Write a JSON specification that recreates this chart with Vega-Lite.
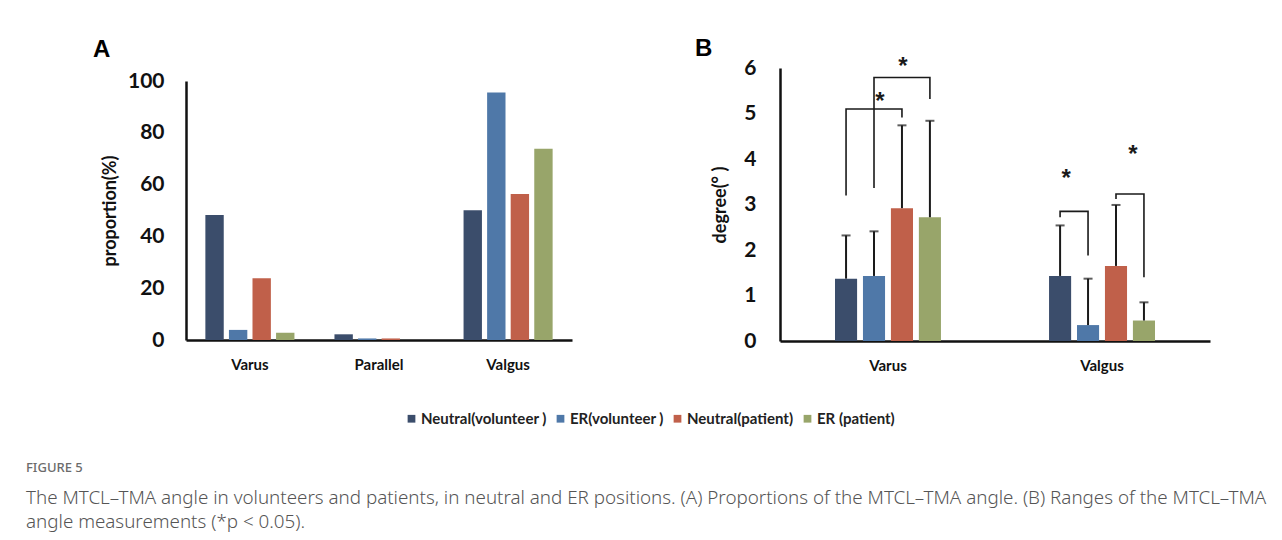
{
  "$schema": "https://vega.github.io/schema/vega-lite/v6.json",
  "background": "white",
  "padding": {"left": 26, "top": 36, "right": 10, "bottom": 2},
  "datasets": {
    "proportion": [
      {"position": "Varus", "group": "Neutral(volunteer )", "value": 48.3},
      {"position": "Varus", "group": "ER(volunteer )", "value": 3.9},
      {"position": "Varus", "group": "Neutral(patient)", "value": 23.8},
      {"position": "Varus", "group": "ER (patient)", "value": 2.8},
      {"position": "Parallel", "group": "Neutral(volunteer )", "value": 2.2},
      {"position": "Parallel", "group": "ER(volunteer )", "value": 0.6},
      {"position": "Parallel", "group": "Neutral(patient)", "value": 0.6},
      {"position": "Parallel", "group": "ER (patient)", "value": 0},
      {"position": "Valgus", "group": "Neutral(volunteer )", "value": 50.1},
      {"position": "Valgus", "group": "ER(volunteer )", "value": 95.6},
      {"position": "Valgus", "group": "Neutral(patient)", "value": 56.4},
      {"position": "Valgus", "group": "ER (patient)", "value": 73.8}
    ],
    "degree": [
      {"position": "Varus", "group": "Neutral(volunteer )", "mean": 1.37, "upper": 2.32},
      {"position": "Varus", "group": "ER(volunteer )", "mean": 1.43, "upper": 2.41},
      {"position": "Varus", "group": "Neutral(patient)", "mean": 2.92, "upper": 4.74},
      {"position": "Varus", "group": "ER (patient)", "mean": 2.72, "upper": 4.84},
      {"position": "Valgus", "group": "Neutral(volunteer )", "mean": 1.43, "upper": 2.54},
      {"position": "Valgus", "group": "ER(volunteer )", "mean": 0.35, "upper": 1.37},
      {"position": "Valgus", "group": "Neutral(patient)", "mean": 1.65, "upper": 2.99},
      {"position": "Valgus", "group": "ER (patient)", "mean": 0.45, "upper": 0.85}
    ],
    "brackets": [
      {"id": "b1", "position": "Varus", "group": "Neutral(volunteer )", "y": 3.2, "step": 1},
      {"id": "b1", "position": "Varus", "group": "Neutral(volunteer )", "y": 5.1, "step": 2},
      {"id": "b1", "position": "Varus", "group": "Neutral(patient)", "y": 5.1, "step": 3},
      {"id": "b1", "position": "Varus", "group": "Neutral(patient)", "y": 4.91, "step": 4},
      {"id": "b2", "position": "Varus", "group": "ER(volunteer )", "y": 3.36, "step": 1},
      {"id": "b2", "position": "Varus", "group": "ER(volunteer )", "y": 5.79, "step": 2},
      {"id": "b2", "position": "Varus", "group": "ER (patient)", "y": 5.79, "step": 3},
      {"id": "b2", "position": "Varus", "group": "ER (patient)", "y": 5.32, "step": 4},
      {"id": "b3", "position": "Valgus", "group": "Neutral(volunteer )", "y": 2.72, "step": 1},
      {"id": "b3", "position": "Valgus", "group": "Neutral(volunteer )", "y": 2.85, "step": 2},
      {"id": "b3", "position": "Valgus", "group": "ER(volunteer )", "y": 2.85, "step": 3},
      {"id": "b3", "position": "Valgus", "group": "ER(volunteer )", "y": 1.88, "step": 4},
      {"id": "b4", "position": "Valgus", "group": "Neutral(patient)", "y": 3.12, "step": 1},
      {"id": "b4", "position": "Valgus", "group": "Neutral(patient)", "y": 3.23, "step": 2},
      {"id": "b4", "position": "Valgus", "group": "ER (patient)", "y": 3.23, "step": 3},
      {"id": "b4", "position": "Valgus", "group": "ER (patient)", "y": 1.4, "step": 4}
    ],
    "stars": [
      {"position": "Varus", "group": "ER(volunteer )", "y": 5.35, "side": "right"},
      {"position": "Varus", "group": "Neutral(patient)", "y": 6.12, "side": "center"},
      {"position": "Valgus", "group": "Neutral(volunteer )", "y": 3.64, "side": "right"},
      {"position": "Valgus", "group": "ER (patient)", "y": 4.18, "side": "left"}
    ]
  },
  "title": {
    "text": "FIGURE 5",
    "subtitle": [
      "The MTCL–TMA angle in volunteers and patients, in neutral and ER positions. (A) Proportions of the MTCL–TMA angle. (B) Ranges of the MTCL–TMA",
      "angle measurements (*p < 0.05)."
    ],
    "orient": "bottom",
    "anchor": "start",
    "frame": "bounds",
    "dx": -67,
    "offset": 35,
    "font": "Noto Sans",
    "fontSize": 13,
    "fontWeight": 500,
    "color": "#6b6b6b",
    "subtitleFont": "Noto Sans",
    "subtitleFontSize": 18.8,
    "subtitleFontWeight": 300,
    "subtitleColor": "#555555",
    "subtitleLineHeight": 23.5,
    "subtitlePadding": 14
  },
  "spacing": 123,
  "resolve": {"scale": {"xOffset": "independent"}},
  "hconcat": [
    {
      "width": 386,
      "height": 272,
      "title": {"text": "A", "anchor": "start", "frame": "group", "dx": -93, "offset": 6, "font": "Liberation Sans", "fontSize": 24, "fontWeight": "bold", "color": "#000"},
      "data": {"name": "proportion"},
      "mark": {"type": "bar"},
      "encoding": {
        "x": {"field": "position", "type": "nominal", "sort": ["Varus", "Parallel", "Valgus"],
              "scale": {"paddingInner": 0.31, "paddingOuter": 0.15},
              "axis": {"title": null, "labelAngle": 0, "labelPadding": 17, "labelFontSize": 15}},
        "xOffset": {"field": "group", "type": "nominal", "sort": ["Neutral(volunteer )", "ER(volunteer )", "Neutral(patient)", "ER (patient)"],
                    "scale": {"paddingInner": 0.22, "paddingOuter": 0}},
        "y": {"field": "value", "type": "quantitative", "scale": {"domain": [0, 100], "nice": false, "range": [272, 13]},
              "axis": {"values": [0, 20, 40, 60, 80, 100], "title": "proportion(%)", "labelPadding": 22, "labelFontSize": 21, "titleFontSize": 18, "titlePadding": 8}},
        "color": {"field": "group", "type": "nominal",
                  "scale": {"domain": ["Neutral(volunteer )", "ER(volunteer )", "Neutral(patient)", "ER (patient)"], "range": ["#3b4d6b", "#4f78a8", "#c0604a", "#98a56a"]},
                  "legend": {"title": null, "orient": "none", "legendX": 218, "legendY": 343}}
      }
    },
    {
      "width": 430,
      "height": 273,
      "title": {"text": "B", "anchor": "start", "frame": "group", "dx": -85, "offset": -6, "font": "Liberation Sans", "fontSize": 24, "fontWeight": "bold", "color": "#000"},
      "encoding": {
        "x": {"field": "position", "type": "nominal", "sort": ["Varus", "Valgus"],
              "scale": {"paddingInner": 0.505, "paddingOuter": 0.257},
              "axis": {"title": null, "labelAngle": 0, "labelPadding": 17, "labelFontSize": 15}},
        "xOffset": {"field": "group", "type": "nominal", "sort": ["Neutral(volunteer )", "ER(volunteer )", "Neutral(patient)", "ER (patient)"],
                    "scale": {"paddingInner": 0.21, "paddingOuter": 0}}
      },
      "layer": [
        {
          "data": {"name": "degree"},
          "mark": {"type": "bar"},
          "encoding": {
            "y": {"field": "mean", "type": "quantitative", "scale": {"domain": [0, 6], "nice": false},
                  "axis": {"values": [0, 1, 2, 3, 4, 5, 6], "title": "degree(°  )", "labelPadding": 24, "labelFontSize": 21, "titleFontSize": 18, "titlePadding": 14}},
            "color": {"field": "group", "type": "nominal", "legend": {"title": null, "orient": "none", "legendX": 218, "legendY": 343}}
          }
        },
        {
          "data": {"name": "degree"},
          "mark": {"type": "rule", "color": "#1a1a1a", "strokeWidth": 2},
          "encoding": {
            "y": {"field": "mean", "type": "quantitative"},
            "y2": {"field": "upper"}
          }
        },
        {
          "data": {"name": "degree"},
          "mark": {"type": "tick", "color": "#1a1a1a", "size": 9, "thickness": 2, "orient": "horizontal"},
          "encoding": {
            "y": {"field": "upper", "type": "quantitative"}
          }
        },
        {
          "data": {"name": "brackets"},
          "mark": {"type": "line", "color": "#1a1a1a", "strokeWidth": 1.6},
          "encoding": {
            "y": {"field": "y", "type": "quantitative"},
            "detail": {"field": "id"},
            "order": {"field": "step", "type": "quantitative"}
          }
        },
        {
          "data": {"name": "stars"},
          "transform": [{"filter": "datum.side === 'right'"}],
          "mark": {"type": "text", "text": "*", "font": "Liberation Sans", "fontSize": 24, "fontWeight": "bold", "color": "#1a1a1a", "dx": 6, "dy": 4, "baseline": "middle"},
          "encoding": {"y": {"field": "y", "type": "quantitative"}}
        },
        {
          "data": {"name": "stars"},
          "transform": [{"filter": "datum.side === 'center'"}],
          "mark": {"type": "text", "text": "*", "font": "Liberation Sans", "fontSize": 24, "fontWeight": "bold", "color": "#1a1a1a", "dx": 1, "dy": 4, "baseline": "middle"},
          "encoding": {"y": {"field": "y", "type": "quantitative"}}
        },
        {
          "data": {"name": "stars"},
          "transform": [{"filter": "datum.side === 'left'"}],
          "mark": {"type": "text", "text": "*", "font": "Liberation Sans", "fontSize": 24, "fontWeight": "bold", "color": "#1a1a1a", "dx": -11, "dy": 4, "baseline": "middle"},
          "encoding": {"y": {"field": "y", "type": "quantitative"}}
        }
      ]
    }
  ],
  "config": {
    "view": {"stroke": null},
    "axis": {
      "grid": false, "ticks": false,
      "domainColor": "#111111", "domainWidth": 2.5,
      "labelFont": "Lato", "labelFontWeight": "bold", "labelColor": "#111111",
      "titleFont": "Lato", "titleFontWeight": "bold", "titleColor": "#111111"
    },
    "legend": {
      "direction": "horizontal",
      "symbolType": "square", "symbolSize": 60, "symbolStrokeWidth": 0,
      "labelFont": "Lato", "labelFontWeight": "bold", "labelFontSize": 15, "labelColor": "#222222",
      "columnPadding": 6, "labelOffset": 2
    }
  }
}
